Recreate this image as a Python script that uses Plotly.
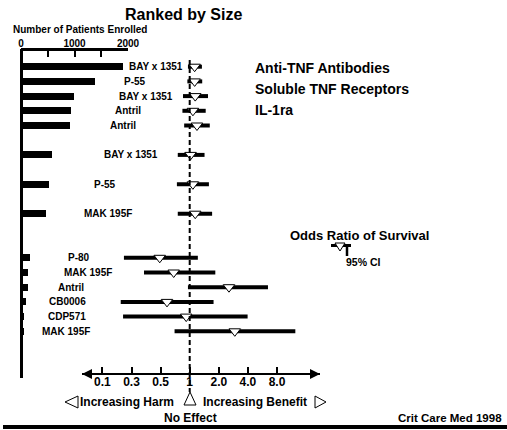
import plotly.graph_objects as go

REF_W, H = 507, 430
# the picture comes out about 3% narrower than the page; widen the figure to fill it
W = 522
FONT = "Liberation Sans, Arial, sans-serif"

# trials, top to bottom
drugs = ["BAY x 1351", "P-55", "BAY x 1351", "Antril", "Antril",
         "BAY x 1351", "P-55", "MAK 195F",
         "P-80", "MAK 195F", "Antril", "CB0006", "CDP571", "MAK 195F"]
row_pos = [0, 1, 2, 3, 4, 6, 8, 10, 13, 14, 15, 16, 17, 18]
patients = [1900, 1380, 985, 940, 910, 580, 520, 460, 160, 130, 130, 90, 60, 50]

# odds ratio of survival, in steps of the schematic scale (0.1 -> 0 ... 8.0 -> 6)
or_point = [3.17, 3.17, 3.19, 3.11, 3.25, 3.03, 3.11, 3.19, 1.97, 2.45, 4.35, 2.22, 2.88, 4.55]
ci_low = [2.94, 2.92, 2.77, 2.75, 2.81, 2.59, 2.56, 2.59, 0.74, 1.43, 2.94, 0.63, 0.71, 2.48]
ci_high = [3.42, 3.43, 3.63, 3.55, 3.69, 3.51, 3.66, 3.77, 3.28, 3.88, 5.69, 3.82, 4.99, 6.63]
or_ticks = ["0.1", "0.3", "0.5", "1", "2.0", "4.0", "8.0"]

patient_ticks = [0, 500, 1000, 1500, 2000]
patient_labels = ["0", "", "1000", "", "2000"]
classes = ["Anti-TNF Antibodies", "Soluble TNF Receptors", "IL-1ra"]

# layout (reference pixels)
label_left = [124, 119, 114, 110, 105, 99, 89, 79, 63, 59, 53, 44, 43, 37]
ROW0, ROW_H = 66.7, 14.7
OR_ONE_PX, OR_STEP = 186.7, 29.1


def px(x):
    return x / REF_W


def py(y):
    return 1 - y / H


def row_at(y):
    return (y - ROW0) / ROW_H


def or_at(x):
    return 3 + (x - OR_ONE_PX) / OR_STEP


def text(t, x, y, size, xanchor="left", yref="paper"):
    return dict(text=f"<b>{t}</b>", x=px(x), xref="paper", y=y if yref == "y" else py(y),
                yref=yref, xanchor=xanchor, yanchor="middle", showarrow=False,
                font=dict(size=size, family=FONT, color="black"))


def tri(points, fill="white", width=1):
    d = "M " + " L ".join(f"{px(x)} {py(y)}" for x, y in points) + " Z"
    return dict(type="path", path=d, xref="paper", yref="paper",
                fillcolor=fill, line=dict(color="black", width=width))


def seg(x0, y0, x1, y1, width, dash=None):
    return dict(type="line", xref="paper", yref="paper", x0=px(x0), y0=py(y0),
                x1=px(x1), y1=py(y1), line=dict(color="black", width=width, dash=dash))


fig = go.Figure()

fig.add_trace(go.Bar(
    x=patients, y=row_pos, orientation="h", width=0.48,
    marker=dict(color="black", line=dict(width=0)), xaxis="x", yaxis="y",
    cliponaxis=False,
))

ci_x, ci_y = [], []
for lo, hi, r in zip(ci_low, ci_high, row_pos):
    ci_x += [lo, hi, None]
    ci_y += [r, r, None]
fig.add_trace(go.Scatter(
    x=ci_x, y=ci_y, mode="lines", line=dict(color="black", width=4),
    xaxis="x2", yaxis="y",
))
fig.add_trace(go.Scatter(
    x=or_point, y=row_pos, mode="markers", xaxis="x2", yaxis="y", cliponaxis=False,
    marker=dict(symbol="triangle-down", size=10, color="white",
                line=dict(color="black", width=1)),
))

annotations = [text(d, x, r, 10, yref="y") for d, x, r in zip(drugs, label_left, row_pos)]
annotations += [text(c, 250, 67.5 + 21.5 * i, 14) for i, c in enumerate(classes)]
annotations += [
    text("Ranked by Size", 180.5, 14, 16, "center"),
    text("Number of Patients Enrolled", 77, 29.5, 10, "center"),
    text("Odds Ratio of Survival", 285, 235.5, 13),
    text("95% CI", 341, 262, 10.5),
    text("Increasing Harm", 75, 402, 12),
    text("Increasing Benefit", 198, 402, 12),
    text("No Effect", 187, 418, 12, "center"),
    text("Crit Care Med 1998", 501, 418, 11.5, "right"),
]
# arrowheads on the odds-ratio axis
for x, ax in [(79, 20), (317, -20)]:
    annotations.append(dict(x=px(x), y=py(374), xref="paper", yref="paper", text="",
                            showarrow=True, ax=ax, ay=0, arrowhead=2, arrowsize=1,
                            arrowwidth=2, arrowcolor="black", standoff=0))

shapes = [
    dict(type="line", xref="x2", yref="paper", x0=or_ticks.index("1"), x1=or_ticks.index("1"),
         y0=py(60), y1=py(392), line=dict(color="black", width=2, dash="5px,3px")),
    tri([(62, 402), (75, 396), (75, 408)]),
    tri([(187, 392), (181, 405), (193, 405)]),
    tri([(323, 402), (312, 396), (312, 408)]),
    seg(328, 245.5, 348, 245.5, 3),
    seg(344, 245.5, 344, 256, 2.5),
    tri([(332, 243), (342, 243), (337, 251)]),
    seg(0, 427, 507, 427, 4),
]

fig.update_layout(
    width=W, height=H, autosize=False,
    margin=dict(l=0, r=0, t=0, b=0),
    paper_bgcolor="white", plot_bgcolor="rgba(0,0,0,0)",
    showlegend=False, bargap=0,
    font=dict(family=FONT, color="black"),
    xaxis=dict(
        domain=[px(18), px(125)], range=[0, 2000], anchor="free", position=py(49),
        side="top", showline=True, linewidth=3, linecolor="black",
        ticks="inside", ticklen=6, tickwidth=2, tickcolor="black",
        tickvals=patient_ticks, ticktext=[f"<b>{t}</b>" for t in patient_labels],
        tickfont=dict(size=10), ticklabelstandoff=-3,
        showgrid=False, zeroline=False,
    ),
    xaxis2=dict(
        domain=[px(79), px(317)], range=[or_at(79), or_at(317)], anchor="free",
        position=py(374), side="bottom", showline=True, linewidth=2, linecolor="black",
        ticks="inside", ticklen=6, tickwidth=2, tickcolor="black",
        tickvals=list(range(len(or_ticks))), ticktext=[f"<b>{t}</b>" for t in or_ticks],
        tickfont=dict(size=12), ticklabelstandoff=-3,
        showgrid=False, zeroline=False,
    ),
    yaxis=dict(
        domain=[py(378), py(49)], range=[row_at(378), row_at(49)], anchor="free",
        position=px(18), showline=True, linewidth=3, linecolor="black",
        showticklabels=False, ticks="", showgrid=False, zeroline=False,
    ),
    annotations=annotations,
    shapes=shapes,
)

# no page margin or scrollbars: the figure starts at the window corner
page_css = ("document.body.style.margin = '0';"
            "document.body.style.overflow = 'hidden';"
            "document.documentElement.style.overflow = 'hidden';")
fig.write_html("out.html", post_script=page_css, config={"displayModeBar": False})
